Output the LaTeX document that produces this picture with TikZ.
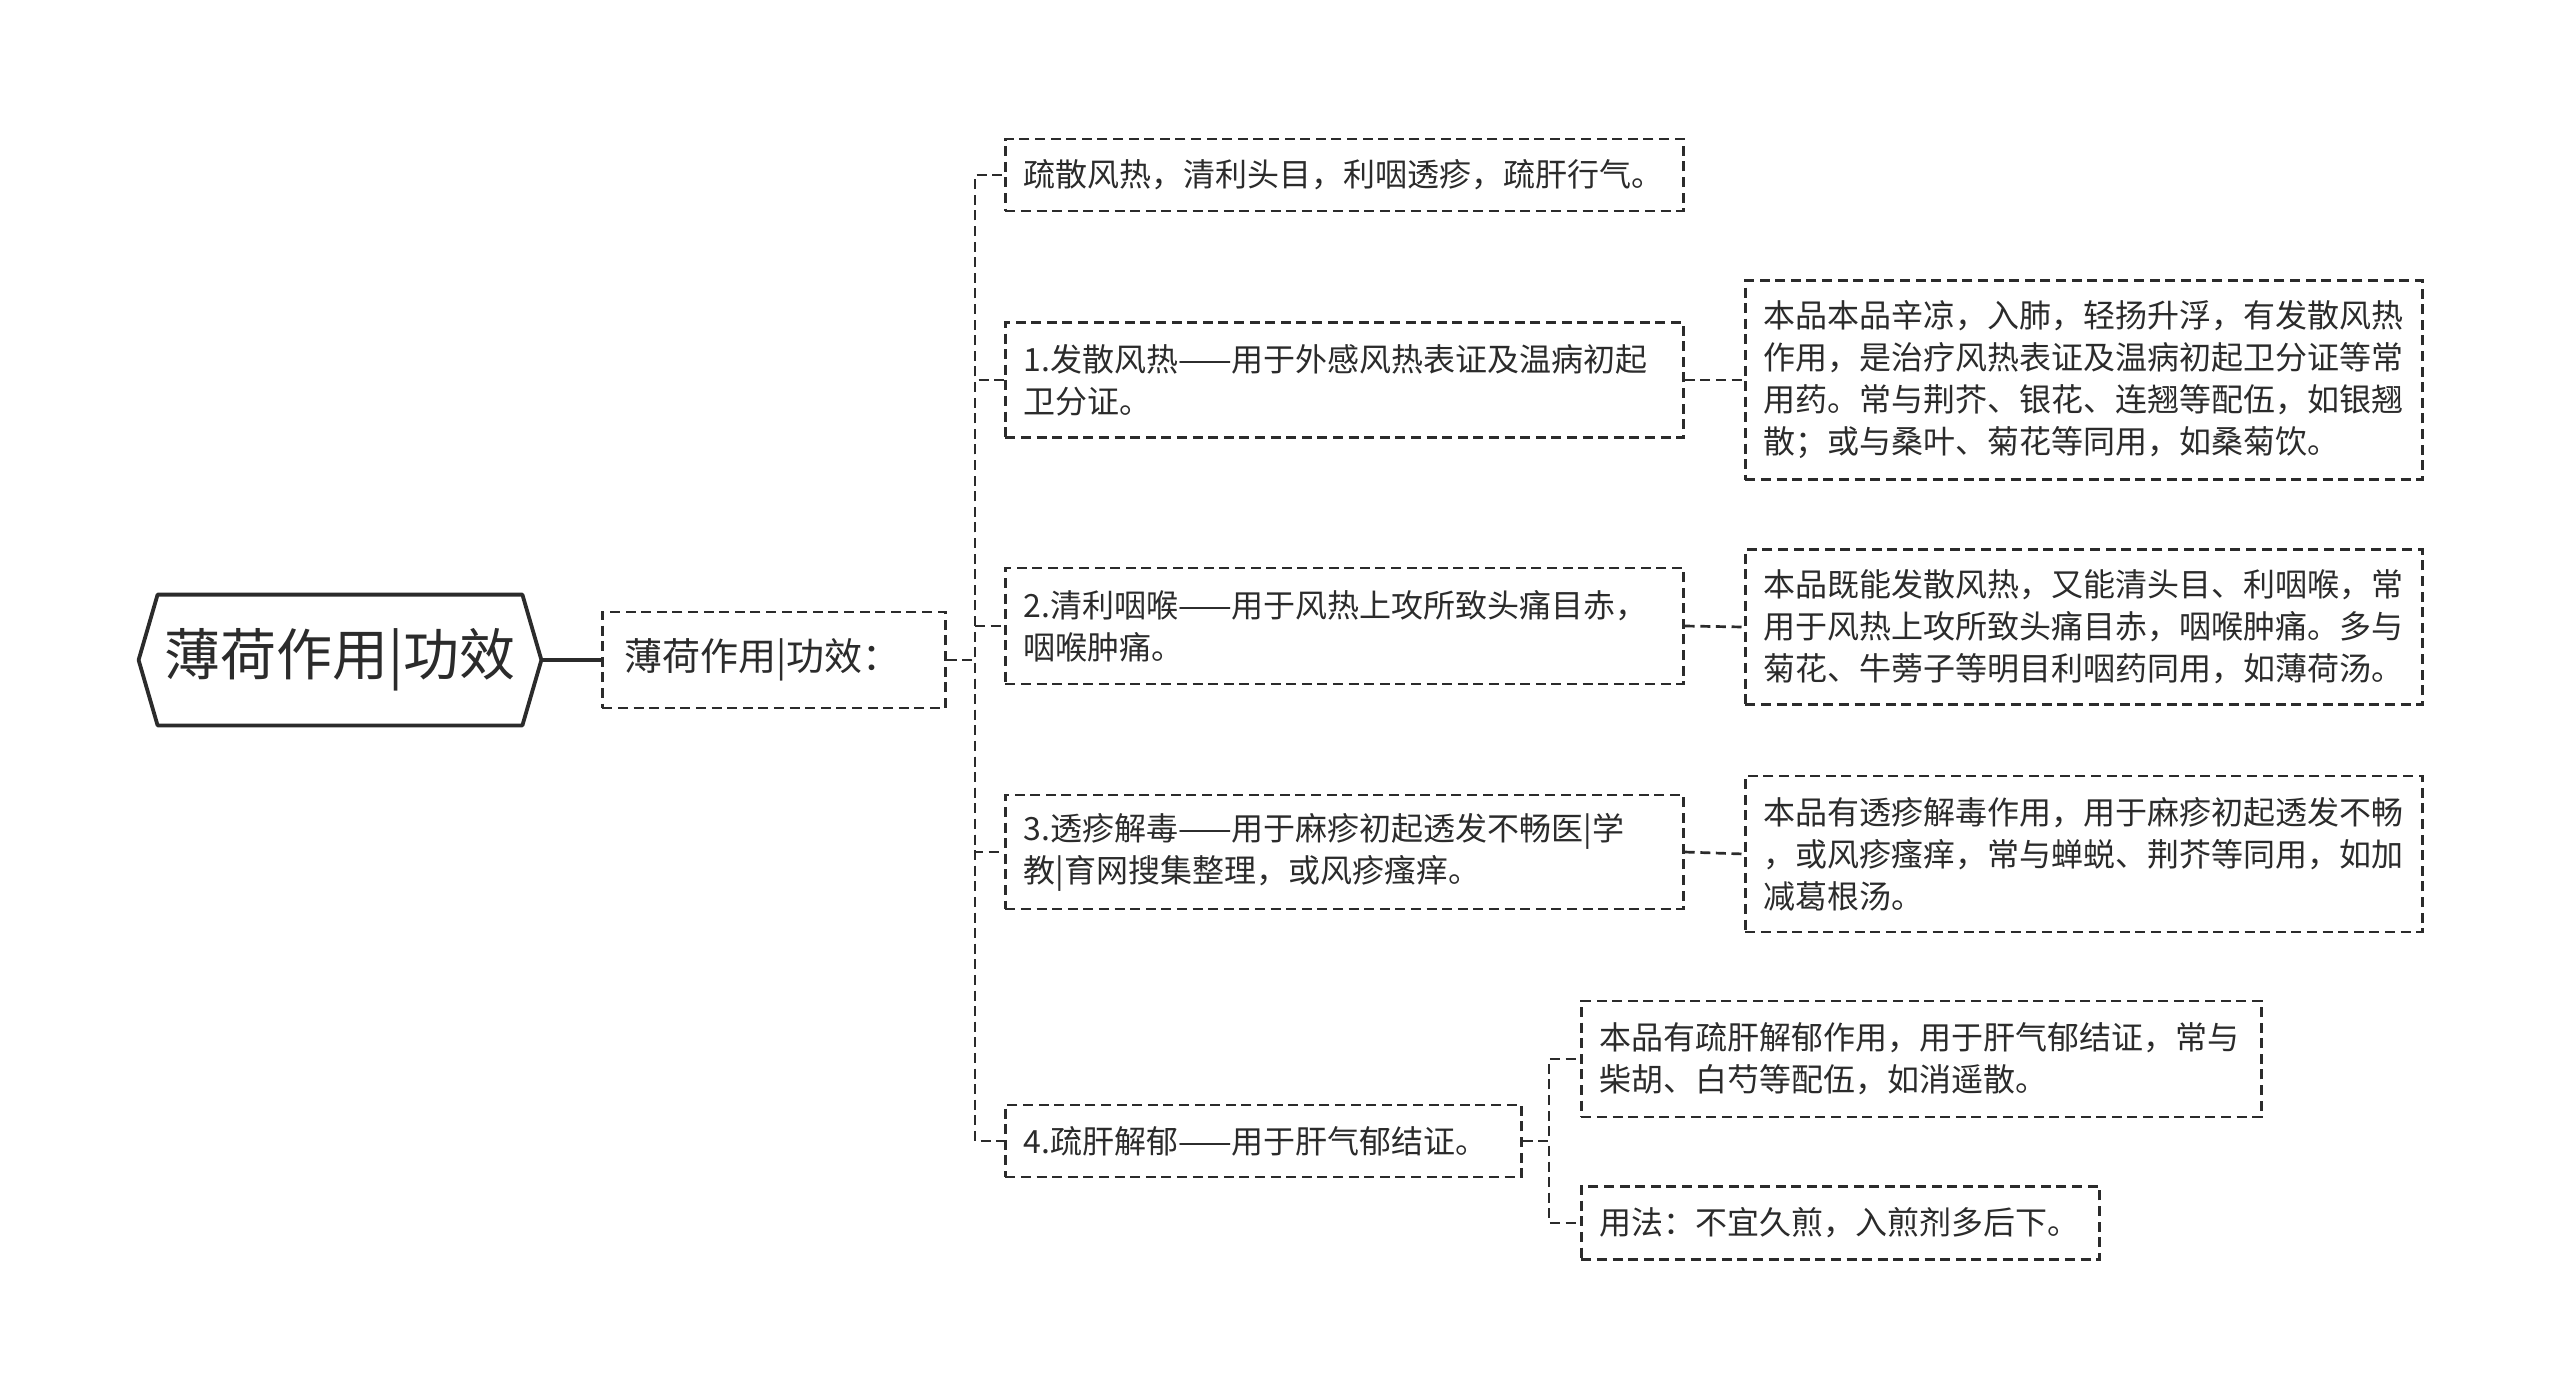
\documentclass[tikz,border=0pt]{standalone}
\usepackage{fontspec}
\usepackage{tikz}
\newfontfamily\cjk{Noto Sans CJK SC}
\definecolor{inkgray}{HTML}{2B2B2B}

\tikzset{
  hexroot/.style={rectangle,minimum width=182pt,minimum height=65pt,inner sep=0pt,
    font={\cjk\fontsize{28pt}{34pt}\selectfont},text=inkgray},
  topicbox/.style={rectangle,draw=inkgray,line width=1.35pt,dash pattern=on 5pt off 2.8pt,
    anchor=west,align=left,inner xsep=11pt,text=inkgray,
    font={\cjk\fontsize{19pt}{24pt}\selectfont}},
  leafbox/.style={rectangle,draw=inkgray,line width=1.35pt,dash pattern=on 5pt off 2.8pt,
    anchor=west,align=left,inner xsep=9pt,inner ysep=0pt,text=inkgray,
    font={\cjk\fontsize{16pt}{21pt}\selectfont}},
  link/.style={draw=inkgray,line width=1.35pt,dash pattern=on 5pt off 2.8pt},
}

\begin{document}
\begin{tikzpicture}[x=0.5pt,y=-0.5pt]
	\useasboundingbox (0,0) rectangle (2560,1399);

	% root
	\node[hexroot] (root) at (340,660) {薄荷作用|功效};
	\draw[inkgray,line width=1.9pt,line join=round] (root.west) ++(-19,0) -- (root.north west) -- (root.north east)
	  -- ([xshift=9.5pt]root.east) -- (root.south east) -- (root.south west) -- cycle;
	\node[topicbox,text width=149.5pt,minimum height=48pt] (l1) at (601,660) {薄荷作用|功效：};
	\draw[inkgray,line width=1.9pt] ([xshift=9.5pt]root.east) -- (l1.west);

	% first level
	\node[leafbox,text width=321pt,minimum height=36pt] (c0) at (1004,175) {疏散风热，清利头目，利咽透疹，疏肝行气。};
	\node[leafbox,text width=321pt,minimum height=57.5pt] (c1) at (1004,380) {1.发散风热——用于外感风热表证及温病初起\\卫分证。};
	\node[leafbox,text width=321pt,minimum height=58pt] (c2) at (1004,626) {2.清利咽喉——用于风热上攻所致头痛目赤，\\咽喉肿痛。};
	\node[leafbox,text width=321pt,minimum height=57pt] (c3) at (1004,852) {3.透疹解毒——用于麻疹初起透发不畅医|学\\教|育网搜集整理，或风疹瘙痒。};
	\node[leafbox,text width=240pt,minimum height=36pt] (c4) at (1004,1141) {4.疏肝解郁——用于肝气郁结证。};

	% second level
	\node[leafbox,text width=320.5pt,minimum height=99.5pt] (g1) at (1744,380) {本品本品辛凉，入肺，轻扬升浮，有发散风热\\作用，是治疗风热表证及温病初起卫分证等常\\用药。常与荆芥、银花、连翘等配伍，如银翘\\散；或与桑叶、菊花等同用，如桑菊饮。};
	\node[leafbox,text width=320.5pt,minimum height=77.5pt] (g2) at (1744,627) {本品既能发散风热，又能清头目、利咽喉，常\\用于风热上攻所致头痛目赤，咽喉肿痛。多与\\菊花、牛蒡子等明目利咽药同用，如薄荷汤。};
	\node[leafbox,text width=320.5pt,minimum height=78pt] (g3) at (1744,854) {本品有透疹解毒作用，用于麻疹初起透发不畅\\，或风疹瘙痒，常与蝉蜕、荆芥等同用，如加\\减葛根汤。};
	\node[leafbox,text width=322pt,minimum height=58pt] (g4a) at (1580,1059) {本品有疏肝解郁作用，用于肝气郁结证，常与\\柴胡、白芍等配伍，如消遥散。};
	\node[leafbox,text width=241pt,minimum height=36.5pt] (g4b) at (1580,1223) {用法：不宜久煎，入煎剂多后下。};

	% connectors
	\coordinate (trunk) at (975,660);
	\coordinate (subtrunk) at (1549,1141);
	\foreach \c in {c0,c1,c2,c3,c4}
	  \draw[link] (l1.east) -- (trunk) |- (\c.west);
	\draw[link] (c1.east) -- (g1.west);
	\draw[link] (c2.east) -- (g2.west);
	\draw[link] (c3.east) -- (g3.west);
	\foreach \g in {g4a,g4b}
	  \draw[link] (c4.east) -- (subtrunk) |- (\g.west);

\end{tikzpicture}
\end{document}
